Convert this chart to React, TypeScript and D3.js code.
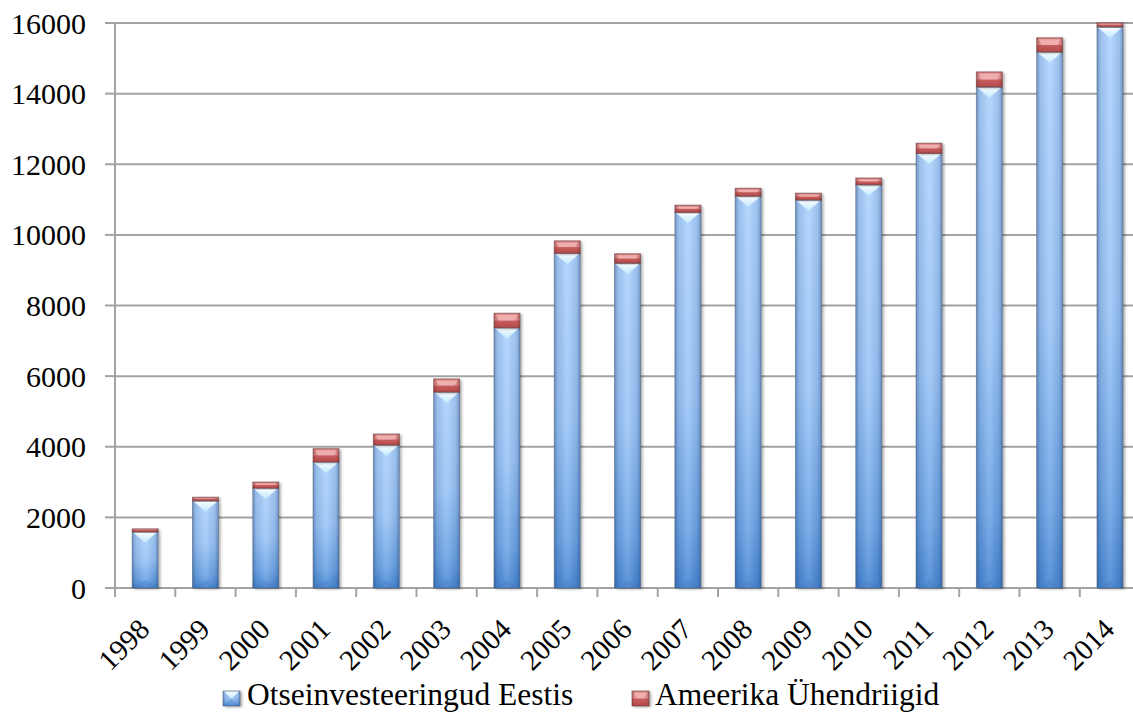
import React from "react";
import * as d3 from "d3";

const years = ["1998","1999","2000","2001","2002","2003","2004","2005","2006","2007","2008","2009","2010","2011","2012","2013","2014"];
const fdiEstonia = [1590, 2470, 2830, 3570, 4050, 5550, 7370, 9480, 9200, 10640, 11100, 10990, 11420, 12310, 14190, 15180, 15890];
const usa = [85, 100, 170, 375, 310, 370, 410, 350, 265, 200, 220, 190, 190, 285, 425, 400, 115];
const yTicks = [0, 2000, 4000, 6000, 8000, 10000, 12000, 14000, 16000];
const seriesNames = ["Otseinvesteeringud Eestis", "Ameerika Ühendriigid"];

const W = 1133, H = 721;
const left = 115, bottom = 588, top = 23;
const step = 60.3;
const FONT = "Liberation Serif";

export default function App() {
  const x = d3.scaleBand<string>().domain(years).range([left, left + step * years.length]).padding(0);
  const y = d3.scaleLinear().domain([0, 16000]).range([bottom, top]);
  const rows = years.map((yr, i) => ({ year: yr, a: fdiEstonia[i], b: usa[i] }));
  const stack = d3.stack<any>().keys(["a", "b"])(rows);
  const bw = x.bandwidth() * 0.43;
  const grid = "#a3a3a3";

  const blueBar = (x0: number, y0: number, w: number, h: number, key: string, chevH = 11) => (
    <g key={key}>
      <rect x={x0} y={y0} width={w} height={h} fill="url(#blueV)" filter="url(#shadow)" />
      <rect x={x0} y={y0} width={w} height={h} fill="url(#sideShade)" />
      <polygon points={`${x0 + 1},${y0 + 0.5} ${x0 + w - 1},${y0 + 0.5} ${x0 + w / 2},${y0 + Math.min(chevH, h)}`} fill="url(#chev)" />
      <polygon points={`${x0 + 2},${y0 + h} ${x0 + w - 2},${y0 + h} ${x0 + w / 2},${y0 + h - Math.min(8, h)}`} fill="#3f7cc6" opacity={0.35} />
      <rect x={x0} y={y0} width={w} height={h} fill="none" stroke="#4c5f7a" strokeOpacity={0.55} strokeWidth={1} />
    </g>
  );
  const redBar = (x0: number, y0: number, w: number, h: number, key: string) => (
    <g key={key}>
      <rect x={x0} y={y0} width={w} height={h} fill="url(#redV)" filter="url(#shadow)" />
      <rect x={x0} y={y0} width={w} height={h} fill="url(#sideShadeR)" />
      {h > 6 && (
        <polygon points={`${x0 + 2},${y0 + 1.5} ${x0 + w - 2},${y0 + 1.5} ${x0 + w - 5},${y0 + h * 0.5} ${x0 + 5},${y0 + h * 0.5}`} fill="#f6b9b9" opacity={0.75} />
      )}
      <rect x={x0} y={y0} width={w} height={h} fill="none" stroke="#6a3b3b" strokeOpacity={0.6} strokeWidth={1} />
    </g>
  );

  return (
    <svg width={W} height={H} style={{ position: "absolute", left: 0, top: 0 }}>
      <style>{`text { font-family: "Liberation Serif", "Times New Roman", serif; }`}</style>
      <defs>
        <linearGradient id="blueV" x1="0" y1="0" x2="0" y2="1">
          <stop offset="0" stopColor="#aacffb" />
          <stop offset="0.5" stopColor="#98c2f4" />
          <stop offset="0.85" stopColor="#69a1e3" />
          <stop offset="1" stopColor="#4584d0" />
        </linearGradient>
        <linearGradient id="sideShade" x1="0" y1="0" x2="1" y2="0">
          <stop offset="0" stopColor="#1e3c6e" stopOpacity={0.4} />
          <stop offset="0.14" stopColor="#1e3c6e" stopOpacity={0.1} />
          <stop offset="0.45" stopColor="#ffffff" stopOpacity={0.12} />
          <stop offset="0.55" stopColor="#ffffff" stopOpacity={0.12} />
          <stop offset="0.86" stopColor="#1e3c6e" stopOpacity={0.1} />
          <stop offset="1" stopColor="#1e3c6e" stopOpacity={0.4} />
        </linearGradient>
        <linearGradient id="sideShadeR" x1="0" y1="0" x2="1" y2="0">
          <stop offset="0" stopColor="#5a1a1a" stopOpacity={0.35} />
          <stop offset="0.14" stopColor="#5a1a1a" stopOpacity={0.08} />
          <stop offset="0.86" stopColor="#5a1a1a" stopOpacity={0.08} />
          <stop offset="1" stopColor="#5a1a1a" stopOpacity={0.35} />
        </linearGradient>
        <linearGradient id="chev" x1="0" y1="0" x2="0" y2="1">
          <stop offset="0" stopColor="#ffffff" stopOpacity={0.95} />
          <stop offset="1" stopColor="#c4eeff" stopOpacity={0.85} />
        </linearGradient>
        <linearGradient id="redV" x1="0" y1="0" x2="0" y2="1">
          <stop offset="0" stopColor="#e48a8a" />
          <stop offset="0.45" stopColor="#e99898" />
          <stop offset="0.55" stopColor="#cf6262" />
          <stop offset="1" stopColor="#bd4d4d" />
        </linearGradient>
        <filter id="shadow" x="-30%" y="-10%" width="160%" height="130%">
          <feDropShadow dx="2" dy="1" stdDeviation="1.5" floodColor="#000" floodOpacity="0.35" />
        </filter>
      </defs>

      {yTicks.filter((t) => t > 0).map((t) => (
        <line key={"g" + t} x1={left} x2={W} y1={y(t)} y2={y(t)} stroke={grid} strokeWidth={2} />
      ))}
      <line x1={left} x2={left} y1={y(16000)} y2={bottom + 9} stroke={grid} strokeWidth={2} />
      {yTicks.map((t) => (
        <g key={"yt" + t}>
          <line x1={left - 10} x2={left} y1={y(t)} y2={y(t)} stroke={grid} strokeWidth={2} />
          <text x={86} y={y(t)} dy="0.35em" textAnchor="end" fontSize={30} fill="#000" fontFamily={FONT}>{String(t)}</text>
        </g>
      ))}
      <line x1={left - 10} x2={W} y1={bottom} y2={bottom} stroke={grid} strokeWidth={2} />
      {years.map((yr) => (
        <line key={"xt" + yr} x1={(x(yr) as number) + step} x2={(x(yr) as number) + step} y1={bottom} y2={bottom + 9} stroke={grid} strokeWidth={2} />
      ))}

      {stack.map((layer, li) =>
        layer.map((d: any, i: number) => {
          const cx = (x(years[i]) as number) + x.bandwidth() / 2;
          const x0 = cx - bw / 2;
          const y0 = y(d[1]);
          const h = y(d[0]) - y(d[1]);
          return li === 0 ? blueBar(x0, y0, bw, h, "b" + i) : redBar(x0, y0, bw, h, "r" + i);
        })
      )}

      {years.map((yr) => {
        const cx = (x(yr) as number) + x.bandwidth() / 2;
        return (
          <text key={"xl" + yr} transform={`translate(${cx + 6},${bottom + 43}) rotate(-45)`} textAnchor="end" fontSize={29} fill="#000" fontFamily={FONT}>
            {yr}
          </text>
        );
      })}

      <g>
        {blueBar(223, 691, 17, 15, "lb", 8)}
        <text x={247} y={705} fontSize={31.5} fill="#000" fontFamily={FONT}>{seriesNames[0]}</text>
        {redBar(632, 691, 17, 15, "lr")}
        <text x={655} y={705} fontSize={31.5} fill="#000" fontFamily={FONT}>{seriesNames[1]}</text>
      </g>
    </svg>
  );
}
